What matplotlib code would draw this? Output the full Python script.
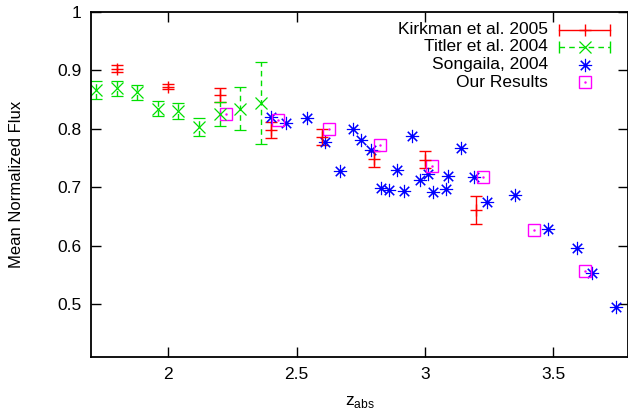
import numpy as np
import matplotlib
matplotlib.use('Agg')
import matplotlib.pyplot as plt
from matplotlib.ticker import FormatStrFormatter

plt.rcParams['font.family'] = ['Liberation Sans', 'DejaVu Sans']

# Kirkman et al. 2005
kirk_z = [1.80, 2.00, 2.20, 2.40, 2.60, 2.80, 3.00, 3.20]
kirk_f = [0.902, 0.872, 0.857, 0.798, 0.786, 0.748, 0.747, 0.661]
kirk_err = [0.006, 0.005, 0.012, 0.014, 0.014, 0.014, 0.015, 0.024]

# Titler et al. 2004
tit_z = [1.72, 1.80, 1.88, 1.96, 2.04, 2.12, 2.20, 2.28, 2.36]
tit_f = [0.866, 0.869, 0.862, 0.834, 0.830, 0.803, 0.825, 0.834, 0.844]
tit_err = [0.015, 0.013, 0.013, 0.013, 0.014, 0.016, 0.021, 0.037, 0.070]

# Songaila 2004
song_z = [2.40, 2.46, 2.54, 2.61, 2.67, 2.72, 2.75, 2.79, 2.83, 2.86, 2.89,
          2.92, 2.95, 2.98, 3.01, 3.03, 3.08, 3.09, 3.14, 3.19, 3.24, 3.35,
          3.48, 3.59, 3.65, 3.745]
song_f = [0.820, 0.809, 0.818, 0.778, 0.728, 0.800, 0.780, 0.764, 0.698, 0.695,
          0.729, 0.694, 0.788, 0.712, 0.722, 0.692, 0.697, 0.719, 0.767, 0.717,
          0.675, 0.687, 0.628, 0.597, 0.553, 0.495]

# Our results
our_z = [2.225, 2.427, 2.625, 2.825, 3.026, 3.224, 3.423, 3.623]
our_f = [0.825, 0.815, 0.799, 0.772, 0.736, 0.717, 0.627, 0.557]

red = '#ff0000'
green = '#00e000'
blue = '#0000ff'
mag = '#ff00ff'
fs = 12.5

fig = plt.figure(figsize=(6.28, 4.13), dpi=100)
ax = fig.add_axes([0.145, 0.1356, 0.855, 0.8364])

eb = ax.errorbar(kirk_z, kirk_f, yerr=kirk_err, fmt='+', color=red, ms=8,
                 mew=1, elinewidth=1, capsize=4, capthick=1)

eb2 = ax.errorbar(tit_z, tit_f, yerr=tit_err, fmt='x', color=green, ms=8.5,
                  mew=0.9, elinewidth=1, capsize=4, capthick=1)
for lc in eb2[2]:
    lc.set_linestyle((0, (4, 3)))

ax.plot(song_z, song_f, ls='none', marker=(8, 2, 0), ms=9.5, mew=0.8,
        color=blue)

ax.plot(our_z, our_f, ls='none', marker='s', ms=9, mew=1, mfc='none',
        color=mag)
ax.plot(our_z, our_f, ls='none', marker='.', ms=1.5, color=mag)

ax.set_xlim(1.7, 3.79)
ax.set_ylim(0.41, 1.0)
ax.set_xticks([2, 2.5, 3, 3.5])
ax.set_yticks([0.5, 0.6, 0.7, 0.8, 0.9, 1.0])
ax.yaxis.set_major_formatter(FormatStrFormatter('%g'))
ax.xaxis.set_major_formatter(FormatStrFormatter('%g'))
ax.tick_params(direction='in', length=7, width=1, top=True, right=True,
               labelsize=fs, pad=7)
for s in ax.spines.values():
    s.set_linewidth(1.3)

ax.set_xlabel(r'z$_{\mathregular{abs}}$', fontsize=fs, labelpad=9)
ax.set_ylabel('Mean Normalized Flux', fontsize=12, labelpad=24)

# legend, drawn gnuplot style (text right, sample left of frame edge)
tx = 0.851
x0, x1 = 0.8715, 0.9665
xm = (x0 + x1) / 2
rows = [0.947, 0.898, 0.846, 0.796]
labels = ['Kirkman et al. 2005', 'Titler et al. 2004', 'Songaila, 2004',
          'Our Results']
for r, lab in zip(rows, labels):
    ax.text(tx, r, lab, transform=ax.transAxes, ha='right', va='center',
            fontsize=fs)
tr = ax.transAxes
ax.plot([x0, x1], [rows[0]] * 2, color=red, lw=1, transform=tr)
ax.plot([x0, x1], [rows[0]] * 2, ls='none', marker='|', ms=8, color=red,
        transform=tr)
ax.plot([xm], [rows[0]], marker='+', ms=8, color=red, transform=tr)
ax.plot([x0, x1], [rows[1]] * 2, color=green, lw=1, ls=(0, (4, 3)),
        transform=tr)
ax.plot([x0, x1], [rows[1]] * 2, ls='none', marker='|', ms=8, color=green,
        transform=tr)
ax.plot([xm], [rows[1]], marker='x', ms=8.5, mew=0.9, color=green, transform=tr)
ax.plot([xm], [rows[2]], marker=(8, 2, 0), ms=9.5, mew=0.8, color=blue,
        transform=tr)
ax.plot([xm], [rows[3]], marker='s', ms=9, mfc='none', color=mag,
        transform=tr)
ax.plot([xm], [rows[3]], marker='.', ms=1.5, color=mag, transform=tr)

fig.savefig('out.png', dpi=100)
